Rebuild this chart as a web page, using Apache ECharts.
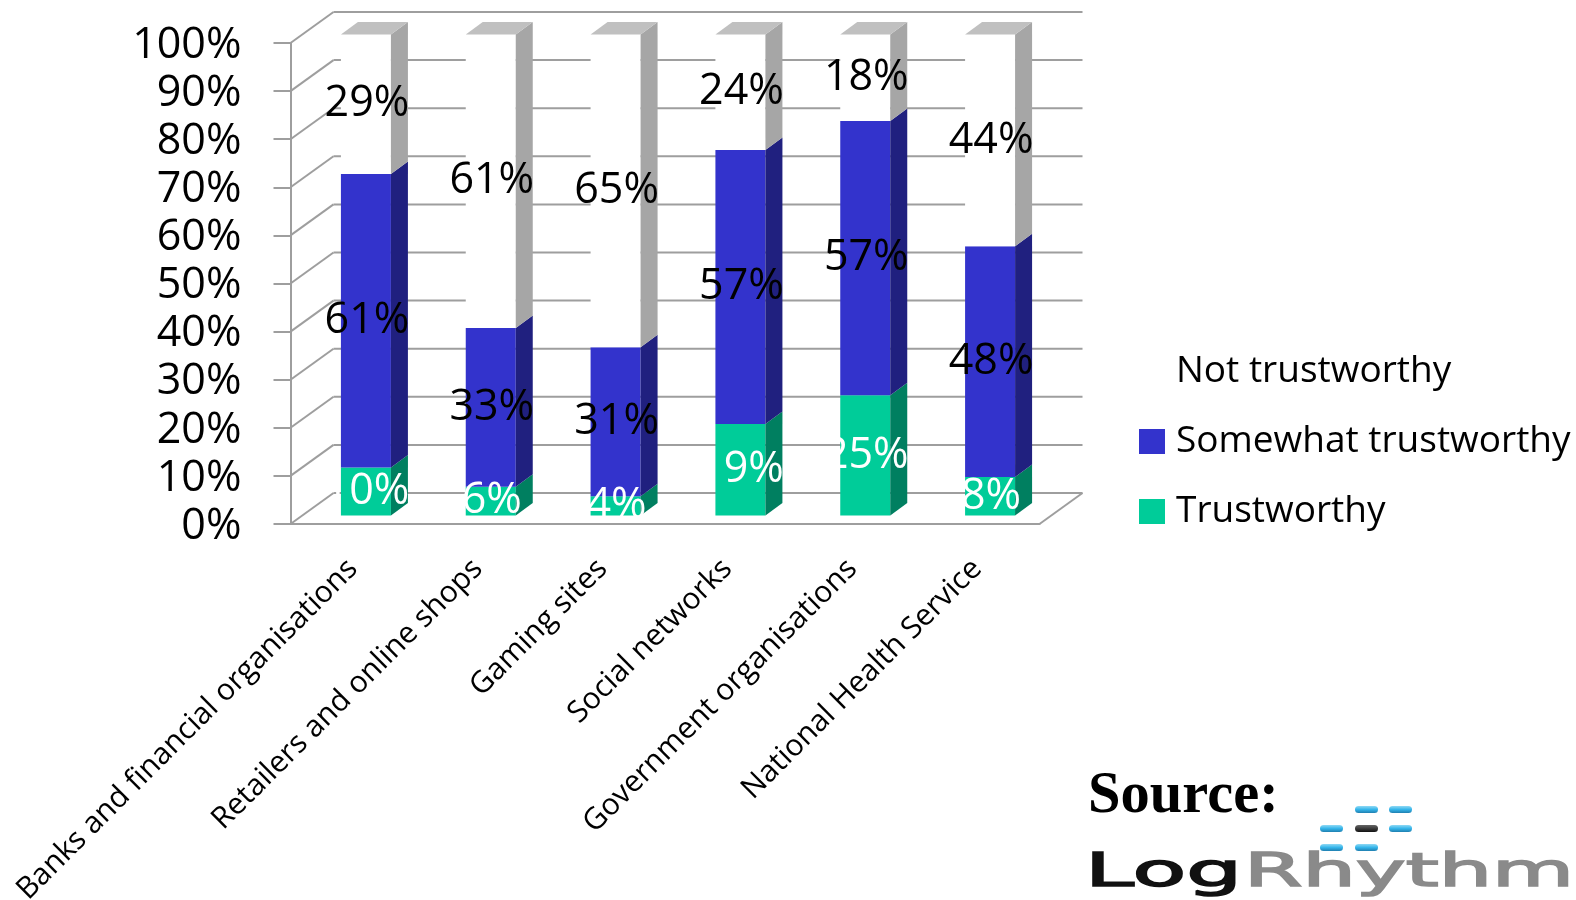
<!DOCTYPE html>
<html>
<head>
<meta charset="utf-8">
<title>Trust by sector</title>
<script src="https://cdn.jsdelivr.net/npm/echarts@6/dist/echarts.min.js"></script>
<style>html,body{margin:0;padding:0;background:#fff}#chart{width:1576px;height:900px}</style>
</head>
<body>
<div id="chart"></div>
<script>
const categories = ['Banks and financial organisations', 'Retailers and online shops', 'Gaming sites', 'Social networks', 'Government organisations', 'National Health Service'];
const trustworthy = [10, 6, 4, 19, 25, 8];
const somewhatTrustworthy = [61, 33, 31, 57, 57, 48];
const notTrustworthy = [29, 61, 65, 24, 18, 44];
const yTicks = [0, 10, 20, 30, 40, 50, 60, 70, 80, 90, 100];

const FONT = '"Open Sans", sans-serif';
const GRID_COLOR = '#9e9e9e';
// Pseudo-3D projection: offsets of the bar plane and of the back wall from the axis plane.
const BAR_OFFSET = { x: 13, y: -8.5 };
const BAR_DEPTH = { x: 17, y: -12.5 };
const WALL_OFFSET = { x: 43, y: -31 };
const BAR_WIDTH = 50;

const stacks = [
  { name: 'Trustworthy', values: trustworthy, front: '#00cc99', side: '#007f60', text: '#ffffff' },
  { name: 'Somewhat trustworthy', values: somewhatTrustworthy, front: '#3333cc', side: '#20207f', text: '#000000' },
  { name: 'Not trustworthy', values: notTrustworthy, front: '#ffffff', side: '#a6a6a6', text: '#000000', top: '#c0c0c0' }
];

function poly(points, fill) {
  return { type: 'polygon', shape: { points }, style: { fill } };
}

// Back wall, left wall and floor, projected from the value axis.
function renderWalls(params, api) {
  const rect = params.coordSys;
  const children = [];
  const line = (x1, y1, x2, y2) => ({
    type: 'line', shape: { x1, y1, x2, y2 },
    style: { stroke: GRID_COLOR, lineWidth: 2, fill: null }
  });
  yTicks.forEach((tick) => {
    const y = api.coord([0, tick])[1];
    const bx = rect.x + WALL_OFFSET.x;
    const by = y + WALL_OFFSET.y;
    children.push(line(rect.x, y, bx, by));
    children.push(line(bx, by, rect.x + rect.width + WALL_OFFSET.x, by));
  });
  const y0 = api.coord([0, 0])[1];
  children.push(line(rect.x + rect.width, y0, rect.x + rect.width + WALL_OFFSET.x, y0 + WALL_OFFSET.y));
  return { type: 'group', children };
}

function renderBar(stack) {
  return function (params, api) {
    const low = api.coord([api.value(0), api.value(1)]);
    const high = api.coord([api.value(0), api.value(2)]);
    const x0 = low[0] - BAR_WIDTH / 2 + BAR_OFFSET.x;
    const x1 = x0 + BAR_WIDTH;
    const yLow = low[1] + BAR_OFFSET.y;
    const yHigh = high[1] + BAR_OFFSET.y;
    const dx = BAR_DEPTH.x;
    const dy = BAR_DEPTH.y;
    const children = [
      poly([[x0, yLow], [x1, yLow], [x1, yHigh], [x0, yHigh]], stack.front),
      poly([[x1, yLow], [x1 + dx, yLow + dy], [x1 + dx, yHigh + dy], [x1, yHigh]], stack.side)
    ];
    if (stack.top) {
      children.push(poly([[x0, yHigh], [x1, yHigh], [x1 + dx, yHigh + dy], [x0 + dx, yHigh + dy]], stack.top));
    }
    return { type: 'group', children };
  };
}

function renderValueLabel(params, api) {
  const pos = api.coord([api.value(0), api.value(1)]);
  return {
    type: 'text',
    style: {
      x: pos[0] + BAR_OFFSET.x + 1, y: pos[1] + BAR_OFFSET.y,
      text: api.value(2) + '%',
      fill: stacks[api.value(3)].text,
      font: '43px ' + FONT, align: 'center', verticalAlign: 'middle'
    }
  };
}

const barSeries = [];
const labelRows = [];
const running = categories.map(() => 0);
stacks.forEach((stack, stackIndex) => {
  const rows = stack.values.map((v, i) => {
    const start = running[i];
    running[i] += v;
    labelRows.push([i, start + v / 2, v, stackIndex]);
    return [i, start, running[i]];
  });
  barSeries.push({
    name: stack.name, type: 'custom', z: 3,
    itemStyle: { color: stack.front },
    renderItem: renderBar(stack),
    encode: { x: 0, y: [1, 2] },
    data: rows
  });
});

const pillRows = [
  { y: 806, xs: [1355, 1389], dark: -1 },
  { y: 825, xs: [1320, 1355, 1389], dark: 1 },
  { y: 844, xs: [1320, 1355], dark: -1 }
];
const pills = [];
pillRows.forEach((row) => row.xs.forEach((x, i) => {
  const dark = i === row.dark;
  pills.push({
    type: 'rect', shape: { x, y: row.y, width: 23, height: 7, r: 3.5 },
    style: {
      fill: {
        type: 'linear', x: 0, y: 0, x2: 0, y2: 1,
        colorStops: dark
          ? [{ offset: 0, color: '#666666' }, { offset: 1, color: '#111111' }]
          : [{ offset: 0, color: '#8fd9f5' }, { offset: 0.5, color: '#35b5ea' }, { offset: 1, color: '#1f7fb0' }]
      }
    }
  });
}));

const chart = echarts.init(document.getElementById('chart'), null, { renderer: 'canvas' });
chart.setOption({
  backgroundColor: '#ffffff',
  animation: false,
  grid: { left: 290.5, top: 43, width: 749, height: 481, containLabel: false, outerBoundsMode: 'none' },
  xAxis: {
    type: 'category', data: categories,
    axisLine: { lineStyle: { color: GRID_COLOR, width: 2 } },
    axisTick: { length: 10, lineStyle: { color: GRID_COLOR, width: 2 } },
    axisLabel: { interval: 0, rotate: 45, margin: 40, fontFamily: FONT, fontSize: 30, color: '#000000' }
  },
  yAxis: {
    type: 'value', min: 0, max: 100, interval: 10,
    splitLine: { show: false },
    axisLine: { show: true, lineStyle: { color: GRID_COLOR, width: 2 } },
    axisTick: { show: true, length: 17, lineStyle: { color: GRID_COLOR, width: 2 } },
    axisLabel: {
      margin: 49,
      formatter: '{tick|{value}%}',
      rich: { tick: { fontFamily: FONT, fontSize: 43, color: '#000000', padding: [5, 0, 0, 0] } }
    }
  },
  legend: {
    orient: 'vertical', left: 1134, top: 348,
    data: ['Not trustworthy', 'Somewhat trustworthy', 'Trustworthy'],
    icon: 'rect', itemWidth: 26, itemHeight: 25, itemGap: 33, selectedMode: false,
    textStyle: { fontFamily: FONT, fontSize: 37, color: '#000000', padding: [0, 0, 14, 6] }
  },
  series: [
    {
      type: 'custom', z: 1, renderItem: renderWalls, silent: true,
      encode: { x: 0, y: 1 }, data: [[0, 0]]
    },
    ...barSeries,
    {
      type: 'custom', z: 5, renderItem: renderValueLabel, silent: true,
      encode: { x: 0, y: 1 }, data: labelRows
    }
  ],
  graphic: [
    {
      type: 'text', left: 1088, top: 767, silent: true,
      style: { text: 'Source:', fill: '#000000', font: 'bold 58.5px "Liberation Serif", serif' }
    },
    ...pills,
    {
      type: 'text', x: 1085, y: 851, scaleX: 1.91, silent: true,
      style: { text: 'Log', fill: '#111111', stroke: '#111111', lineWidth: 1.5, font: '46px "DejaVu Sans", sans-serif' }
    },
    {
      type: 'text', x: 1244, y: 851, scaleX: 1.83, silent: true,
      style: { text: 'Rhythm', fill: '#8a8a8a', stroke: '#8a8a8a', lineWidth: 1.5, font: '46px "DejaVu Sans", sans-serif' }
    }
  ]
});
</script>
</body>
</html>
